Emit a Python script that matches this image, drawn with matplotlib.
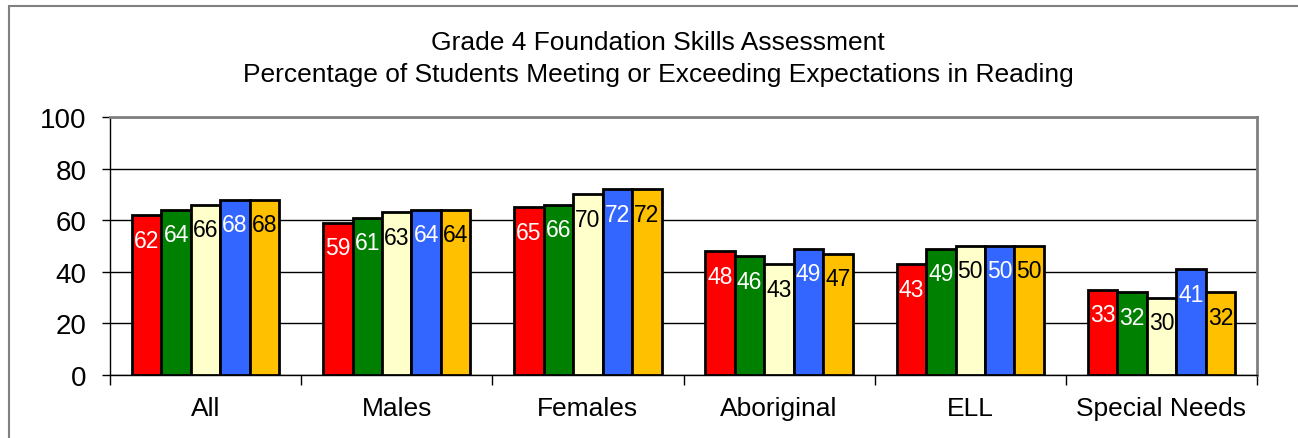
import numpy as np
import matplotlib.pyplot as plt
from matplotlib.patches import Rectangle

plt.rcParams['font.family'] = ['Liberation Sans', 'DejaVu Sans']

groups = ["All", "Males", "Females", "Aboriginal", "ELL", "Special Needs"]
series = [
    [62, 59, 65, 48, 43, 33],
    [64, 61, 66, 46, 49, 32],
    [66, 63, 70, 43, 50, 30],
    [68, 64, 72, 49, 50, 41],
    [68, 64, 72, 47, 50, 32],
]
colors = ["#FF0000", "#008000", "#FFFFCC", "#3366FF", "#FFC000"]
label_colors = ["white", "white", "black", "white", "black"]

fig = plt.figure(figsize=(12.98, 4.39), dpi=100)
ax = fig.add_axes([110 / 1298, 1 - 376 / 439, 1147 / 1298, 258 / 439])

# outer chart frame
fig.patches.append(Rectangle((9 / 1298, -0.1), 1.2, 1 - 7 / 439 + 0.1,
                             transform=fig.transFigure, fill=False,
                             edgecolor="#808080", linewidth=1.5))

x = np.arange(len(groups))
width = 0.154
for i, vals in enumerate(series):
    pos = x + (i - 2) * width
    bars = ax.bar(pos, vals, width, color=colors[i], edgecolor="black",
                  linewidth=2, zorder=3)
    for b, v in zip(bars, vals):
        ax.annotate(str(v), (b.get_x() + b.get_width() / 2, v),
                    xytext=(0, -18), textcoords="offset points",
                    ha="center", va="center", fontsize=16.5,
                    color=label_colors[i], zorder=4)

ax.set_xlim(-0.5, len(groups) - 0.5)
ax.set_ylim(0, 100)
ax.set_yticks(range(0, 101, 20))
ax.yaxis.grid(True, color="black", linewidth=1, zorder=0)
ax.tick_params(axis="y", labelsize=20, direction="out", length=6,
               width=1, pad=11)

ax.set_xticks(x)
ax.set_xticklabels(groups, fontsize=19)
ax.tick_params(axis="x", length=0, pad=15)
ax.set_xticks(np.arange(-0.5, len(groups)), minor=True)
ax.tick_params(axis="x", which="minor", length=7, width=1, direction="out")

for s in ["top", "right"]:
    ax.spines[s].set_color("#808080")
    ax.spines[s].set_linewidth(2)
for s in ["left", "bottom"]:
    ax.spines[s].set_color("black")
    ax.spines[s].set_linewidth(1)

fig.text(658 / 1298, 1 - 43 / 439, "Grade 4 Foundation Skills Assessment",
         ha="center", va="center", fontsize=19)
fig.text(658 / 1298, 1 - 75 / 439,
         "Percentage of Students Meeting or Exceeding Expectations in Reading",
         ha="center", va="center", fontsize=19)

fig.savefig("out.png", dpi=100)
